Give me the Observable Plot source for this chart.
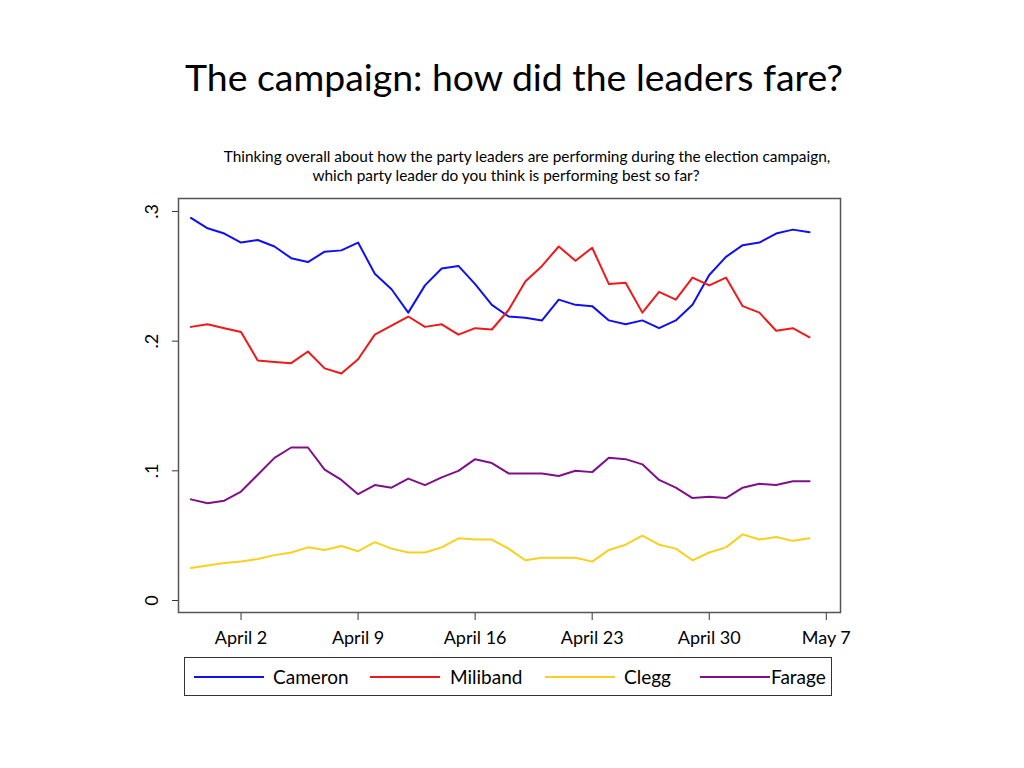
<!DOCTYPE html>
<html><head><meta charset="utf-8">
<script src="https://cdn.jsdelivr.net/npm/d3@7"></script>
<script src="https://cdn.jsdelivr.net/npm/@observablehq/plot@0.6"></script>
<style>
body{margin:0;background:#fff;font-family:Lato,"Open Sans",sans-serif;color:#000}
#wrap{position:relative;width:1024px;height:768px;overflow:hidden;background:#fff}
.abs{position:absolute}
#title{left:2px;width:1024px;top:55px;text-align:center;font-size:37.4px;line-height:44px}
.sub{width:1024px;text-align:center;font-size:15.4px;line-height:19px}
#chart{left:0;top:190px}
#legend{left:184px;top:657px;width:646px;height:37px;border:1.5px solid #333}
.sw{position:absolute;top:18px;width:70px;height:0;border-top:2px solid}
.lt{position:absolute;top:8px;font-size:19px;line-height:22px}
</style></head>
<body><div id="wrap">
<div id="title" class="abs">The campaign: how did the leaders fare?</div>
<div class="abs sub" style="left:15px;top:147px">Thinking overall about how the party leaders are performing during the election campaign,</div>
<div class="abs sub" style="left:-6px;top:166px">which party leader do you think is performing best so far?</div>
<div id="chart" class="abs"></div>
<div id="legend" class="abs"></div>
</div>
<script>
const dates = ["2015-03-30","2015-03-31","2015-04-01","2015-04-02","2015-04-03","2015-04-04","2015-04-05","2015-04-06","2015-04-07","2015-04-08","2015-04-09","2015-04-10","2015-04-11","2015-04-12","2015-04-13","2015-04-14","2015-04-15","2015-04-16","2015-04-17","2015-04-18","2015-04-19","2015-04-20","2015-04-21","2015-04-22","2015-04-23","2015-04-24","2015-04-25","2015-04-26","2015-04-27","2015-04-28","2015-04-29","2015-04-30","2015-05-01","2015-05-02","2015-05-03","2015-05-04","2015-05-05","2015-05-06"];
const cameron = [0.295,0.287,0.283,0.276,0.278,0.273,0.264,0.261,0.269,0.270,0.276,0.252,0.240,0.222,0.243,0.256,0.258,0.244,0.228,0.219,0.218,0.216,0.232,0.228,0.227,0.216,0.213,0.216,0.210,0.216,0.228,0.251,0.265,0.274,0.276,0.283,0.286,0.284];
const miliband = [0.211,0.213,0.210,0.207,0.185,0.184,0.183,0.192,0.179,0.175,0.186,0.205,0.212,0.219,0.211,0.213,0.205,0.210,0.209,0.224,0.246,0.258,0.273,0.262,0.272,0.244,0.245,0.222,0.238,0.232,0.249,0.243,0.249,0.227,0.222,0.208,0.210,0.203];
const clegg = [0.025,0.027,0.029,0.030,0.032,0.035,0.037,0.041,0.039,0.042,0.038,0.045,0.040,0.037,0.037,0.041,0.048,0.047,0.047,0.040,0.031,0.033,0.033,0.033,0.030,0.039,0.043,0.050,0.043,0.040,0.031,0.037,0.041,0.051,0.047,0.049,0.046,0.048];
const farage = [0.078,0.075,0.077,0.084,0.097,0.110,0.118,0.118,0.101,0.093,0.082,0.089,0.087,0.094,0.089,0.095,0.100,0.109,0.106,0.098,0.098,0.098,0.096,0.100,0.099,0.110,0.109,0.105,0.093,0.087,0.079,0.080,0.079,0.087,0.090,0.089,0.092,0.092];
const leaders = ["Cameron","Miliband","Clegg","Farage"];
const colors = ["#1010f0","#f01818","#f8d020","#80108a"];
const xTickDates = ["2015-04-02","2015-04-09","2015-04-16","2015-04-23","2015-04-30","2015-05-07"];
const xTickLabels = ["April 2","April 9","April 16","April 23","April 30","May 7"];
const yTicks = [0, 0.1, 0.2, 0.3];
const yTickLabels = ["0", ".1", ".2", ".3"];

const series = [cameron, miliband, clegg, farage];
const rows = [];
leaders.forEach((name, j) => dates.forEach((d, i) => rows.push({leader: name, date: new Date(d), value: series[j][i]})));
const tickDates = xTickDates.map(d => new Date(d));
const xLab = new Map(tickDates.map((d, i) => [+d, xTickLabels[i]]));
const yLab = new Map(yTicks.map((v, i) => [v, yTickLabels[i]]));
const DAY = 864e5;
const xDomain = [new Date(+new Date(dates[0]) - 0.74 * DAY), new Date(+tickDates[tickDates.length - 1] + 0.85 * DAY)];

const chart = Plot.plot({
  width: 1024, height: 470,
  marginTop: 8, marginBottom: 48, marginLeft: 178, marginRight: 184,
  style: {fontFamily: "Lato, 'Open Sans', sans-serif", fontSize: "18px", background: "transparent", color: "#000", overflow: "visible"},
  x: {type: "utc", domain: xDomain},
  y: {domain: [-0.00925, 0.31]},
  color: {domain: leaders, range: colors},
  marks: [
    Plot.axisX({ticks: tickDates, tickFormat: d => xLab.get(+d), tickSize: 8, tickPadding: 11, label: null, fontSize: 18, stroke: "#333"}),
    Plot.axisY({ticks: yTicks, tickFormat: v => yLab.get(v), tickSize: 6, tickPadding: 15, tickRotate: -90, label: null, fontSize: 18, stroke: "#333"}),
    Plot.line(rows, {x: "date", y: "value", z: "leader", stroke: "leader", strokeWidth: 2}),
    Plot.frame({stroke: "#555", strokeWidth: 1.5})
  ]
});
document.getElementById("chart").appendChild(chart);

const legend = document.getElementById("legend");
const swX = [9, 185, 360, 515];
const txX = [88, 265, 439, 586];
leaders.forEach((name, j) => {
  const s = document.createElement("div");
  s.className = "sw"; s.style.left = swX[j] + "px"; s.style.borderTopColor = colors[j];
  legend.appendChild(s);
  const t = document.createElement("div");
  t.className = "lt"; t.style.left = txX[j] + "px"; t.textContent = name;
  legend.appendChild(t);
});
</script>
</body></html>
